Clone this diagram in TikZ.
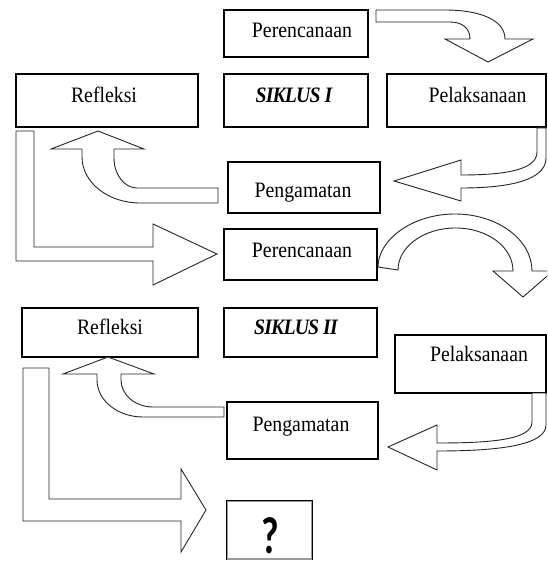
\documentclass[tikz,border=0pt]{standalone}
\usepackage{fontspec}
\setmainfont{Liberation Serif}[FakeStretch=0.9]
\newfontfamily\qfont{Carlito}
\begin{document}
\begin{tikzpicture}[x=1pt,y=-1pt,
  box/.style={draw=black, line width=1.1pt, inner sep=0pt, fill=white},
  blockarrow/.style={draw=black!85, line width=0.9pt, fill=white, line join=miter},
  lbl/.style={font=\fontsize{22}{22}\selectfont, anchor=base, inner sep=0pt},
  slbl/.style={font=\fontsize{22}{22}\selectfont\bfseries\itshape\addfontfeatures{LetterSpace=-4}, anchor=base, inner sep=0pt}]
\useasboundingbox (0,0) rectangle (547,561);
\fill[white] (0,0) rectangle (547,561);
\begin{scope}
\clip (0,0) rectangle (547,561);

% ---------- boxes ----------
\node[box, minimum width=144pt, minimum height=47pt] (per1) at (296,33.5) {};
\node[box, minimum width=182pt, minimum height=53pt] (ref1) at (107,100.5) {};
\node[box, minimum width=144pt, minimum height=53pt] (sik1) at (296,100.5) {};
\node[box, minimum width=159pt, minimum height=53pt] (pel1) at (466.5,100.5) {};
\node[box, minimum width=152pt, minimum height=51pt] (pen1) at (304,187.5) {};
\node[box, minimum width=153pt, minimum height=51pt] (per2) at (300.5,254.5) {};
\node[box, minimum width=176pt, minimum height=49pt] (ref2) at (110,332.5) {};
\node[box, minimum width=153pt, minimum height=49pt] (sik2) at (300.5,332.5) {};
\node[box, minimum width=151pt, minimum height=58pt] (pel2) at (470.5,364) {};
\node[box, minimum width=151pt, minimum height=57pt] (pen2) at (302.5,430.5) {};
\node[box, draw=black!40, minimum width=85pt, minimum height=58pt] (qbox) at (269.5,530) {};
\draw[line width=1.1pt] (qbox.south west) |- (qbox.north east) -- (qbox.south east);

% ---------- block arrows ----------
% Perencanaan I -> Pelaksanaan I
\path[blockarrow] (376,10) -- (445,10) .. controls (480,10) and (505,20) .. (505,39)
  -- (533,39) -- (488,62) -- (445,39) -- (470,39)
  .. controls (470,28) and (462,22) .. (450,22) -- (376,22) -- cycle;
% Pelaksanaan I -> Pengamatan I
\path[blockarrow] (537,128) -- (546,128) -- (546,158)
  .. controls (546,180) and (510,188) .. (461,188) -- (461,201) -- (394,181)
  -- (461,160) -- (461,175) .. controls (505,175) and (537,170) .. (537,152) -- cycle;
% Pengamatan I -> Refleksi I
\path[blockarrow] (218,188) -- (137,188) .. controls (124.3,188) and (114,174.6) .. (114,158)
  -- (114,149) -- (144,149) -- (98,131) -- (51,149) -- (82,149) -- (82,157)
  .. controls (82,182.4) and (108,203) .. (140,203) -- (218,203) -- cycle;
% Refleksi I -> Perencanaan II
\path[blockarrow] (16,131) -- (34,131) -- (34,247) -- (153,247) -- (153,224)
  -- (217,254) -- (153,285) -- (153,261) -- (16,261) -- cycle;
% Perencanaan II -> Pelaksanaan II
\path[blockarrow] (378,267) .. controls (378,239.6) and (412.5,214) .. (455,214)
  .. controls (497.5,214) and (532,239.6) .. (532,271) -- (553,271) -- (523,297)
  -- (493,271) -- (513,271) .. controls (513,246.8) and (487.2,228) .. (455.5,228)
  .. controls (423.8,228) and (398,246.8) .. (398,270) -- cycle;
% Pelaksanaan II -> Pengamatan II
\path[blockarrow] (532,393) -- (546,393) -- (546,425)
  .. controls (546,445) and (500,451) .. (437,451) -- (437,470) -- (388,447)
  -- (437,425) -- (437,443) .. controls (490,443) and (532,440) .. (532,422) -- cycle;
% Pengamatan II -> Refleksi II
\path[blockarrow] (224,407) -- (153,407) .. controls (135.3,407) and (121,394.9) .. (121,380)
  -- (121,374) -- (154,374) -- (108,357) -- (63,374) -- (97,374) -- (97,380)
  .. controls (97,400.4) and (117.6,417) .. (143,417) -- (224,417) -- cycle;
% Refleksi II -> ?
\path[blockarrow] (23,368) -- (49,368) -- (49,499) -- (181,499) -- (181,469)
  -- (206,510) -- (181,552) -- (181,521) -- (23,521) -- cycle;
\end{scope}

% ---------- labels ----------
\node[lbl] (tper1) at (302,38) {Perencanaan};
\node[lbl] (tref1) at (104,103) {Refleksi};
\node[slbl] (tsik1) at (294,103) {SIKLUS I};
\node[lbl] (tpel1) at (477.5,103) {Pelaksanaan};
\node[lbl] (tpen1) at (303,197) {Pengamatan};
\node[lbl] (tper2) at (302,257) {Perencanaan};
\node[lbl] (tref2) at (110,334) {Refleksi};
\node[slbl] (tsik2) at (296,334) {SIKLUS II};
\node[lbl] (tpel2) at (479,361) {Pelaksanaan};
\node[lbl] (tpen2) at (301,431) {Pengamatan};
\node[anchor=base, inner sep=0pt] (tq) at (270,553)
  {\scalebox{0.95}[1.3]{\qfont\bfseries\fontsize{40}{40}\selectfont ?}};
\end{tikzpicture}
\end{document}
